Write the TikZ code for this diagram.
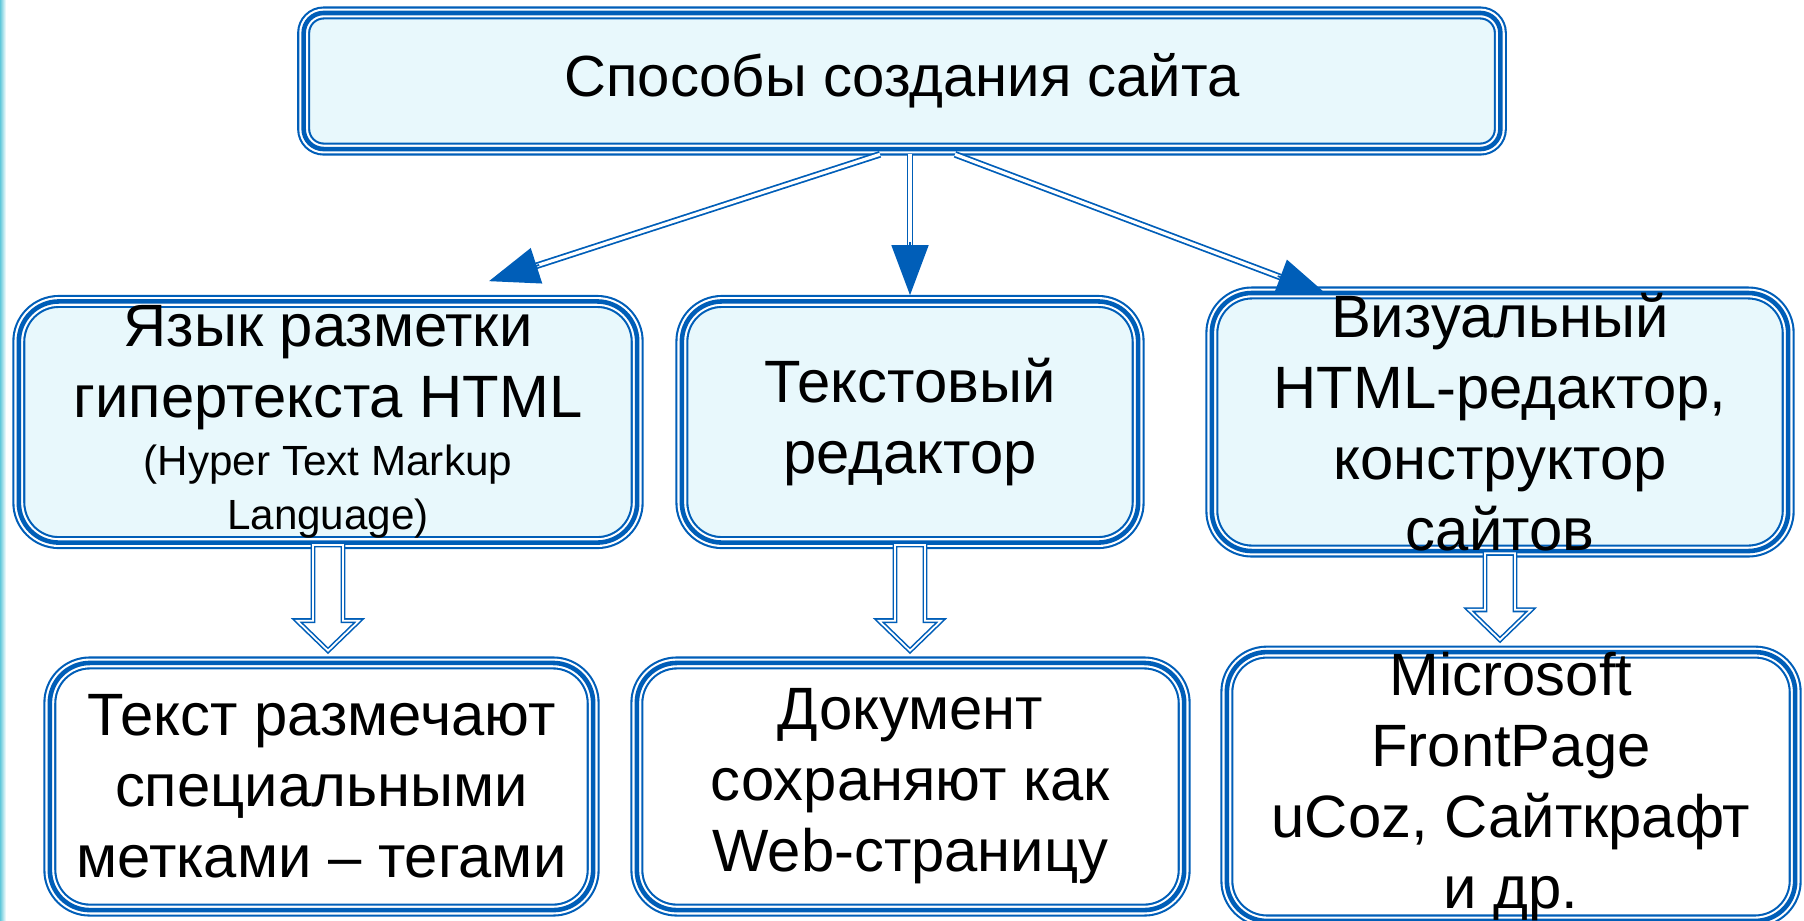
\documentclass[tikz,border=0pt]{standalone}
\usepackage{fontspec}
\setmainfont{Liberation Sans}
\usetikzlibrary{arrows.meta, positioning, calc}
\definecolor{lineblue}{RGB}{0,94,184}
\definecolor{paleblue}{RGB}{232,248,252}
\definecolor{edgecyan}{RGB}{96,200,218}
\newcommand{\Sub}[1]{{\fontsize{12pt}{15pt}\selectfont #1}}
\tikzset{
    tribox/.style={rounded corners=0.4cm, inner sep=0pt, align=center,
      font=\fontsize{17pt}{20.2pt}\selectfont,
      preaction={fill=#1},
      preaction={draw=lineblue, line width=3.7pt},
      preaction={draw=white, line width=2.5pt},
      draw=lineblue, line width=1.3pt},
    tribox/.default=white,
    shaft/.style={draw=lineblue, line width=0.5pt, double=white, double distance=0.9pt},
    tip/.style={draw=lineblue, line width=0.5pt, -{Triangle[length=14.2pt, width=10.5pt]}},
    hollow/.style={fill=white, draw=lineblue, line width=0.45pt, double=white, double distance=0.5pt, line join=miter},
}

\begin{document}
\begin{tikzpicture}[x=0.01cm, y=-0.01cm]
    \useasboundingbox (0,0) rectangle (1804,920);
    \shade[left color=edgecyan, right color=white] (0,0) rectangle (6,920);

    % top level
    \node[tribox=paleblue, rounded corners=0.2cm, minimum width=11.96cm, minimum height=1.36cm,
      font=\fontsize{16.5pt}{20pt}\selectfont] (top) at (902,81) {Способы создания сайта};

    % ways
    \node[tribox=paleblue, minimum width=6.18cm, minimum height=2.41cm] (html) at (328,422)
      {Язык разметки\\гипертекста HTML\\[-3.7pt]\Sub{(Hyper Text Markup}\\[-4.8pt]\Sub{Language)}};
    \node[tribox=paleblue, minimum width=4.56cm, minimum height=2.41cm] (txt) at (910,422)
      {Текстовый\\редактор};
    \node[tribox=paleblue, minimum width=5.76cm, minimum height=2.41cm] (visual) at (1500,422)
      {Визуальный\\HTML-редактор,\\конструктор\\сайтов};

    % results
    \node[tribox, minimum width=5.43cm, minimum height=2.47cm] (tags) at (321.5,786.5)
      {Текст размечают\\специальными\\метками – тегами};
    \node[tribox, minimum width=5.47cm, minimum height=2.47cm] (webpage) at (910.5,786.5)
      {Документ\\сохраняют как\\Web-страницу};
    \node[tribox, minimum width=5.68cm, minimum height=2.47cm] (tools) at (1511,786.5)
      {Microsoft\\FrontPage\\uCoz, Сайткрафт\\и др.};

    \coordinate (s1) at ($(top.south)+(-22,3)$);
    \coordinate (s2) at ($(top.south)+(8,3)$);
    \coordinate (s3) at ($(top.south)+(53,3)$);
    \coordinate (t1) at ($(html.north)+(161,-18)$);
    \coordinate (t2) at ($(txt.north)+(0,-4)$);
    \coordinate (t3) at ($(visual.north)+(-173,4)$);

    \foreach \s/\t in {s1/t1, s2/t2, s3/t3} {
      \draw[shaft] (\s) -- ($(\t)!14pt!(\s)$);
      \draw[tip] ($(\t)!15pt!(\s)$) -- (\t);
    }

    \foreach \s/\t in {html/tags, txt/webpage, visual/tools} {
      \draw[hollow] ($(\s.south)+(-15,0)$) -- ($(\s.south |- \t.north)+(-15,-40)$) -- ++(-16,0)
        -- ($(\s.south |- \t.north)+(0,-10)$) -- ($(\s.south |- \t.north)+(31,-40)$) -- ++(-16,0)
        -- ($(\s.south)+(15,0)$) -- cycle;
    }
\end{tikzpicture}
\end{document}
